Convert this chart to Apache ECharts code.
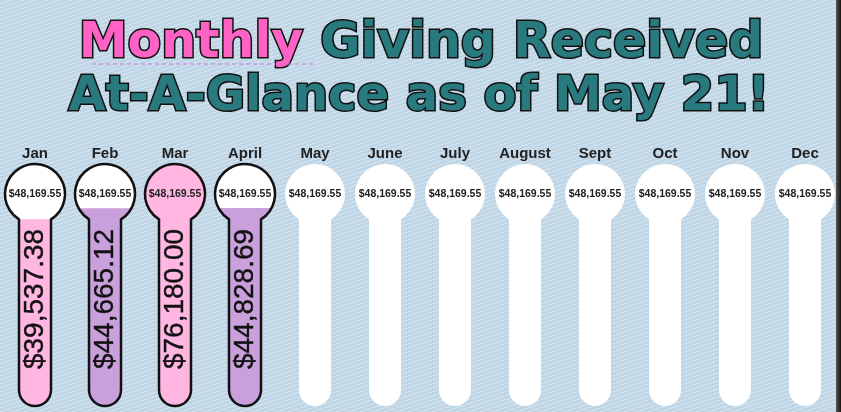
<!DOCTYPE html>
<html>
<head>
<meta charset="utf-8">
<script src="https://cdn.jsdelivr.net/npm/echarts@6/dist/echarts.min.js"></script>
<style>
  html, body { margin: 0; padding: 0; }
  #main { width: 841px; height: 412px; }
</style>
</head>
<body>
<div id="main"></div>
<script>
// data
const months = ['Jan', 'Feb', 'Mar', 'April', 'May', 'June', 'July', 'August', 'Sept', 'Oct', 'Nov', 'Dec']
const goals = [48169.55, 48169.55, 48169.55, 48169.55, 48169.55, 48169.55, 48169.55, 48169.55, 48169.55, 48169.55, 48169.55, 48169.55]
const received = [39537.38, 44665.12, 76180.00, 44828.69, null, null, null, null, null, null, null, null]

const yMin = -48000
const yMax = 80000

// denim look
function denim() {
  const c = document.createElement('canvas')
  c.width = 12
  c.height = 4
  const g = c.getContext('2d')
  g.fillStyle = '#c4d9e8'
  g.fillRect(0, 0, 12, 4)
  g.lineWidth = 1
  g.strokeStyle = 'rgba(235,243,250,0.4)'
  for (let k = -1; k <= 1; k++) {
    g.beginPath(); g.moveTo(k * 12, 4); g.lineTo(12 + k * 12, 0); g.stroke()
  }
  g.strokeStyle = 'rgba(150,180,205,0.18)'
  for (let k = -1; k <= 1; k++) {
    g.beginPath(); g.moveTo(6 + k * 12, 4); g.lineTo(18 + k * 12, 0); g.stroke()
  }
  return c
}

function money(v) {
  return '$' + v.toLocaleString('en-US', { minimumFractionDigits: 2, maximumFractionDigits: 2 })
}

// thermometer outline: bulb on top, rounded tube below
function shapePath(cx, cy, R, w, yb) {
  const ny = cy + Math.sqrt(R * R - w * w)
  return 'M' + (cx - w) + ' ' + ny + ' L' + (cx - w) + ' ' + (yb - w) +
    ' A' + w + ' ' + w + ' 0 0 0 ' + (cx + w) + ' ' + (yb - w) +
    ' L' + (cx + w) + ' ' + ny +
    ' A' + R + ' ' + R + ' 0 1 0 ' + (cx - w) + ' ' + ny + ' Z'
}

function fillPath(cx, cy, R, w, yb, L) {
  const ny = cy + Math.sqrt(R * R - w * w)
  if (L <= cy - R) return shapePath(cx, cy, R, w, yb)
  const tube = ' L' + (cx - w) + ' ' + (yb - w) +
    ' A' + w + ' ' + w + ' 0 0 0 ' + (cx + w) + ' ' + (yb - w)
  if (L >= ny) {
    return 'M' + (cx - w) + ' ' + L + tube + ' L' + (cx + w) + ' ' + L + ' Z'
  }
  const hx = Math.sqrt(R * R - (L - cy) * (L - cy))
  return 'M' + (cx - w) + ' ' + ny + tube + ' L' + (cx + w) + ' ' + ny +
    ' A' + R + ' ' + R + ' 0 0 0 ' + (cx + hx) + ' ' + L +
    ' L' + (cx - hx) + ' ' + L +
    ' A' + R + ' ' + R + ' 0 0 0 ' + (cx - w) + ' ' + ny + ' Z'
}

function renderThermo(params, api) {
  const i = api.value(0)
  const goal = api.value(1)
  const got = api.value(2)
  const base = api.coord([i, yMin])
  const cx = base[0]
  const yb = base[1]
  const cy = params.coordSys.y + 61
  const R = 30
  const w = 16
  const has = !isNaN(got)
  const children = [{
    type: 'path',
    shape: { pathData: shapePath(cx, cy, R, w, yb) },
    style: { fill: '#ffffff', stroke: null }
  }]
  if (has) {
    const L = api.coord([i, got])[1]
    children.push({
      type: 'path',
      shape: { pathData: fillPath(cx, cy, R, w, yb, L) },
      style: { fill: i % 2 ? '#c9a0dc' : '#ffb7e2', stroke: null }
    })
    children.push({
      type: 'path',
      shape: { pathData: shapePath(cx, cy, R, w, yb) },
      style: { fill: null, stroke: '#111', lineWidth: 2.5 }
    })
    children.push({
      type: 'text',
      x: cx,
      y: 299,
      rotation: Math.PI / 2,
      style: {
        text: money(got),
        fill: '#111',
        stroke: '#111',
        lineWidth: 0.4,
        font: '28px "Liberation Sans", Arial, sans-serif',
        align: 'center',
        verticalAlign: 'middle'
      }
    })
  }
  children.push({
    type: 'text',
    x: cx,
    y: cy,
    style: {
      text: money(goal),
      fill: '#222',
      font: 'bold 10.5px "Liberation Sans", Arial, sans-serif',
      align: 'center',
      verticalAlign: 'middle'
    }
  })
  return { type: 'group', children: children }
}

const chart = echarts.init(document.getElementById('main'))

function titleFont(size) {
  return {
    fontFamily: '"DejaVu Sans"',
    fontWeight: 'bold',
    fontStyle: 'normal',
    fontSize: size,
    lineHeight: size + 4,
    stroke: '#111',
    lineWidth: 3,
    lineJoin: 'round'
  }
}

const option = {
  backgroundColor: { image: denim(), repeat: 'repeat' },
  animation: false,
  grid: { left: 0, right: 1, top: 133, bottom: 6 },
  xAxis: {
    type: 'category',
    data: months,
    position: 'top',
    offset: -30,
    axisLine: { show: false },
    axisTick: { show: false },
    axisLabel: {
      interval: 0,
      margin: 2,
      color: '#222',
      fontFamily: 'Liberation Sans',
      fontWeight: 'bold',
      fontSize: 15
    }
  },
  yAxis: {
    type: 'value',
    min: yMin,
    max: yMax,
    show: false
  },
  series: [{
    type: 'custom',
    renderItem: renderThermo,
    encode: { x: 0, y: 1 },
    data: months.map((m, i) => [i, goals[i], received[i] === null ? NaN : received[i]])
  }],
  graphic: [
    {
      type: 'text',
      x: 421,
      y: 18,
      style: {
        text: '{p|Monthly}{t| Giving Received}',
        align: 'center',
        verticalAlign: 'top',
        font: 'normal bold 49px "DejaVu Sans"',
        rich: {
          p: Object.assign({ fill: '#ff62c5' }, titleFont(49)),
          t: Object.assign({ fill: '#287a7e' }, titleFont(49))
        }
      }
    },
    {
      type: 'text',
      x: 419,
      y: 72,
      style: {
        text: '{t|At-A-Glance as of May 21!}',
        align: 'center',
        verticalAlign: 'top',
        font: 'normal bold 48px "DejaVu Sans"',
        rich: {
          t: Object.assign({ fill: '#287a7e' }, titleFont(48))
        }
      }
    },
    {
      type: 'line',
      shape: { x1: 92, y1: 64, x2: 315, y2: 64 },
      style: { stroke: '#c978dc', lineWidth: 1.2, lineDash: [4, 3] }
    },
    {
      type: 'rect',
      right: 0,
      top: 0,
      shape: { width: 5, height: 412 },
      style: {
        fill: new echarts.graphic.LinearGradient(0, 0, 1, 0, [
          { offset: 0, color: '#555' },
          { offset: 1, color: '#151515' }
        ])
      }
    }
  ]
}

chart.setOption(option)
</script>
</body>
</html>
